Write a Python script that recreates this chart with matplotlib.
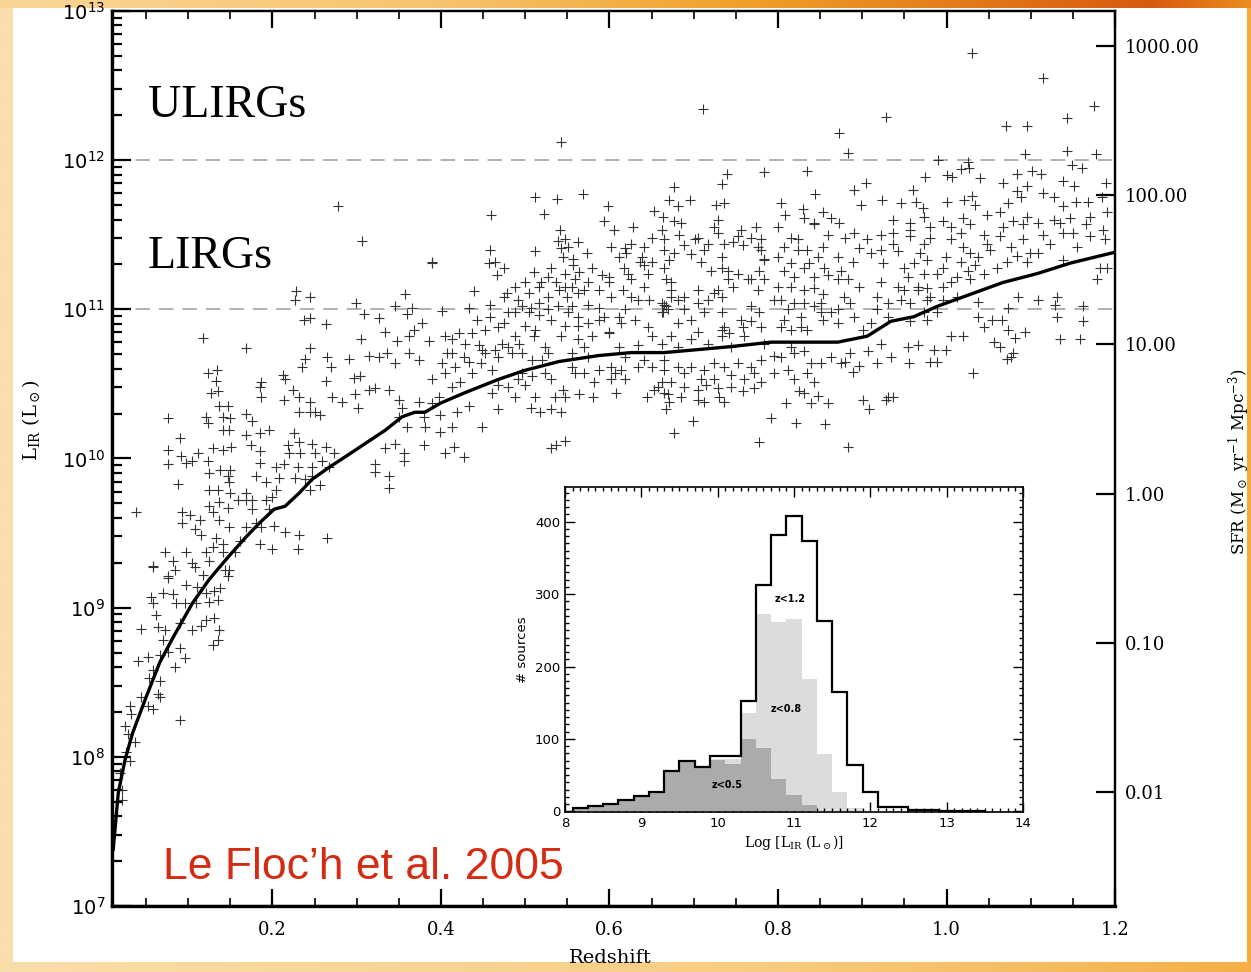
import numpy as np
import matplotlib
matplotlib.use("Agg")
import matplotlib.pyplot as plt
from matplotlib.ticker import (MultipleLocator, FixedLocator, FormatStrFormatter, LogFormatterMathtext,
                               NullLocator, NullFormatter)

plt.rcParams['mathtext.fontset'] = 'dejavuserif'

# ---- data: (redshift, log L_IR) ----
src_lowz = [
    (0.058, 9.28), (0.084, 9.25), (0.108, 9.27), (0.076, 9.20), (0.097, 9.15), (0.111, 9.14), (0.121, 9.10),
    (0.131, 9.11), (0.138, 9.13), (0.147, 9.21), (0.149, 9.25), (0.056, 9.07), (0.058, 9.03), (0.070, 9.10),
    (0.082, 9.09), (0.085, 9.03), (0.096, 9.03), (0.109, 9.03), (0.125, 9.04), (0.135, 9.05), (0.062, 8.95),
    (0.044, 8.86), (0.064, 8.87), (0.073, 8.85), (0.090, 8.90), (0.105, 8.85), (0.115, 8.88), (0.121, 8.92),
    (0.131, 8.93), (0.137, 8.85), (0.070, 8.78), (0.090, 8.73), (0.096, 8.66), (0.129, 8.75), (0.135, 8.78),
    (0.040, 8.64), (0.052, 8.67), (0.067, 8.68), (0.076, 8.70), (0.084, 8.60), (0.058, 8.58), (0.054, 8.53),
    (0.066, 8.51), (0.064, 8.42), (0.067, 8.40), (0.044, 8.40), (0.031, 8.34), (0.032, 8.29), (0.052, 8.34),
    (0.058, 8.32), (0.090, 8.25), (0.025, 8.21), (0.028, 8.15), (0.037, 8.10), (0.026, 8.03), (0.031, 7.97),
    (0.022, 7.78), (0.019, 7.89), (0.022, 7.71),
    (0.076, 10.27), (0.090, 10.14), (0.076, 10.06), (0.076, 9.96), (0.091, 10.02), (0.097, 9.97), (0.105, 9.98),
    (0.112, 10.04), (0.088, 9.83), (0.121, 10.28), (0.123, 10.24), (0.137, 10.35), (0.147, 10.35), (0.141, 10.28),
    (0.150, 10.27), (0.141, 10.19), (0.149, 10.19), (0.168, 10.30), (0.176, 10.25), (0.169, 10.16), (0.185, 10.17),
    (0.196, 10.19), (0.129, 10.07), (0.141, 10.06), (0.151, 10.08), (0.175, 10.09), (0.185, 10.05), (0.123, 9.98),
    (0.125, 9.90), (0.138, 9.92), (0.150, 9.92), (0.147, 9.88), (0.125, 9.79), (0.149, 9.84), (0.135, 9.79),
    (0.150, 9.77), (0.185, 9.97), (0.180, 9.88), (0.192, 9.84), (0.168, 9.77), (0.176, 9.72), (0.192, 9.72),
    (0.159, 9.72), (0.125, 9.68), (0.137, 9.71), (0.147, 9.67), (0.129, 9.64), (0.137, 9.59), (0.149, 9.54),
    (0.114, 9.59), (0.093, 9.64), (0.102, 9.62), (0.093, 9.57), (0.108, 9.53), (0.115, 9.49), (0.133, 9.47),
    (0.141, 9.43), (0.129, 9.41), (0.121, 9.37), (0.141, 9.37), (0.156, 9.37), (0.097, 9.37), (0.105, 9.30),
    (0.125, 9.31), (0.073, 9.37), (0.082, 9.31), (0.058, 9.27), (0.144, 9.25), (0.117, 9.22), (0.076, 9.21),
    (0.038, 9.64), (0.186, 9.54), (0.161, 9.45), (0.168, 9.54), (0.180, 9.57), (0.176, 9.66), (0.196, 9.66),
    (0.168, 9.72), (0.118, 10.81), (0.168, 10.74), (0.123, 10.57), (0.134, 10.59), (0.133, 10.52), (0.127, 10.44),
    (0.135, 10.45), (0.186, 10.51), (0.185, 10.48), (0.186, 10.41),
]

src_midz = [
    (0.228, 11.12), (0.244, 11.08), (0.299, 11.04), (0.346, 11.02), (0.366, 11.01), (0.309, 10.97), (0.327, 10.94),
    (0.360, 10.97), (0.238, 10.93), (0.245, 10.94), (0.263, 10.90), (0.378, 10.91), (0.305, 10.80), (0.334, 10.85),
    (0.348, 10.79), (0.362, 10.82), (0.368, 10.86), (0.386, 10.79), (0.244, 10.74), (0.239, 10.67), (0.265, 10.68),
    (0.269, 10.61), (0.291, 10.67), (0.314, 10.69), (0.327, 10.68), (0.336, 10.71), (0.346, 10.64), (0.362, 10.71),
    (0.374, 10.66), (0.235, 10.61), (0.263, 10.52), (0.297, 10.54), (0.304, 10.55), (0.213, 10.56), (0.215, 10.53),
    (0.224, 10.46), (0.214, 10.39), (0.232, 10.41), (0.244, 10.38), (0.245, 10.31), (0.232, 10.31), (0.251, 10.31),
    (0.257, 10.29), (0.271, 10.41), (0.283, 10.38), (0.298, 10.43), (0.301, 10.34), (0.315, 10.46), (0.322, 10.47),
    (0.338, 10.46), (0.350, 10.39), (0.354, 10.34), (0.350, 10.28), (0.374, 10.38), (0.389, 10.37), (0.399, 10.29),
    (0.380, 10.28), (0.360, 10.21), (0.381, 10.21), (0.356, 10.04), (0.356, 9.98), (0.380, 10.09), (0.346, 10.10),
    (0.334, 10.07), (0.322, 9.96), (0.322, 9.91), (0.338, 9.88), (0.338, 9.80), (0.218, 10.09), (0.226, 10.17),
    (0.232, 10.11), (0.247, 10.10), (0.220, 10.04), (0.233, 10.04), (0.250, 10.04), (0.263, 10.08), (0.273, 10.04),
    (0.259, 9.98), (0.247, 9.94), (0.267, 9.94), (0.204, 9.94), (0.214, 9.96), (0.230, 9.94), (0.208, 9.87),
    (0.227, 9.87), (0.239, 9.86), (0.247, 9.88), (0.244, 9.79), (0.256, 9.82), (0.204, 9.79), (0.200, 9.74),
    (0.202, 9.55), (0.185, 9.43), (0.200, 9.39), (0.230, 9.39), (0.215, 9.51), (0.232, 9.49), (0.265, 9.47),
    (0.227, 11.06), (0.278, 11.69), (0.306, 11.46), (0.357, 11.10), (0.389, 11.31),
]

src_z05 = [
    (0.677, 11.82), (0.734, 11.84), (0.512, 11.75), (0.538, 11.74), (0.569, 11.77), (0.459, 11.63), (0.522, 11.64),
    (0.671, 11.73), (0.681, 11.69), (0.695, 11.73), (0.727, 11.70), (0.736, 11.71), (0.598, 11.69), (0.593, 11.59),
    (0.605, 11.53), (0.653, 11.66), (0.664, 11.62), (0.676, 11.59), (0.685, 11.58), (0.628, 11.55), (0.662, 11.53),
    (0.729, 11.60), (0.724, 11.55), (0.541, 11.53), (0.458, 11.40), (0.457, 11.31), (0.464, 11.32), (0.475, 11.28),
    (0.466, 11.23), (0.512, 11.39), (0.539, 11.46), (0.547, 11.47), (0.543, 11.41), (0.551, 11.42), (0.563, 11.45),
    (0.573, 11.38), (0.531, 11.28), (0.510, 11.25), (0.545, 11.35), (0.557, 11.34), (0.564, 11.25), (0.557, 11.30),
    (0.611, 11.35), (0.618, 11.41), (0.638, 11.35), (0.650, 11.32), (0.665, 11.40), (0.671, 11.33), (0.677, 11.38),
    (0.689, 11.43), (0.701, 11.47), (0.712, 11.40), (0.709, 11.32), (0.697, 11.37), (0.733, 11.35), (0.741, 11.26),
    (0.746, 11.45), (0.758, 11.43), (0.776, 11.42), (0.780, 11.47), (0.756, 11.53), (0.774, 11.55), (0.783, 11.33),
    (0.729, 11.51), (0.641, 11.30), (0.622, 11.24), (0.600, 11.22), (0.575, 11.18), (0.555, 11.15), (0.537, 11.18),
    (0.519, 11.18), (0.500, 11.18), (0.488, 11.15), (0.478, 11.11), (0.439, 11.12), (0.401, 10.99), (0.433, 11.01),
    (0.458, 11.03), (0.458, 10.95), (0.443, 10.93), (0.475, 11.08), (0.496, 11.02), (0.507, 11.01), (0.516, 10.96),
    (0.527, 11.08), (0.540, 11.13), (0.549, 11.08), (0.563, 11.11), (0.575, 11.03), (0.587, 11.01), (0.602, 11.08),
    (0.616, 11.13), (0.626, 11.08), (0.641, 11.15), (0.647, 11.06), (0.662, 11.04), (0.667, 11.02), (0.673, 11.13),
    (0.689, 11.08), (0.705, 11.04), (0.724, 11.11), (0.733, 11.08), (0.746, 11.15), (0.764, 11.20), (0.776, 11.13),
    (0.783, 11.20), (0.768, 11.02), (0.756, 10.93), (0.733, 10.86), (0.712, 10.98), (0.697, 10.93), (0.681, 10.91),
    (0.662, 10.98), (0.646, 10.88), (0.630, 10.93), (0.614, 10.91), (0.599, 10.85), (0.579, 10.82), (0.563, 10.89),
    (0.547, 10.89), (0.531, 10.93), (0.511, 10.86), (0.500, 10.89), (0.488, 10.82), (0.475, 10.91), (0.472, 10.77),
    (0.445, 10.76), (0.421, 10.84), (0.405, 10.82), (0.413, 10.71), (0.427, 10.68), (0.452, 10.71), (0.468, 10.68),
    (0.484, 10.71), (0.493, 10.77), (0.510, 10.82), (0.523, 10.75), (0.527, 10.71), (0.543, 10.82), (0.563, 10.80),
    (0.570, 10.75), (0.600, 10.84), (0.611, 10.75), (0.634, 10.76), (0.650, 10.82), (0.662, 10.77), (0.673, 10.82),
    (0.681, 10.75), (0.697, 10.80), (0.705, 10.85), (0.717, 10.77), (0.733, 10.82), (0.744, 10.75), (0.760, 10.82),
    (0.780, 10.88), (0.783, 10.77), (0.389, 10.53), (0.398, 10.41), (0.413, 10.48), (0.422, 10.51), (0.405, 10.57),
    (0.437, 10.57), (0.448, 10.64), (0.460, 10.59), (0.468, 10.49), (0.460, 10.44), (0.433, 10.35), (0.419, 10.31),
    (0.468, 10.33), (0.488, 10.41), (0.500, 10.49), (0.496, 10.57), (0.511, 10.41), (0.507, 10.34), (0.517, 10.31),
    (0.531, 10.33), (0.543, 10.31), (0.535, 10.41), (0.547, 10.41), (0.531, 10.53), (0.559, 10.57), (0.545, 10.46),
    (0.564, 10.43), (0.581, 10.41), (0.582, 10.51), (0.606, 10.57), (0.608, 10.44), (0.644, 10.41), (0.653, 10.46),
    (0.662, 10.51), (0.670, 10.43), (0.667, 10.33), (0.671, 10.38), (0.673, 10.51), (0.689, 10.57), (0.705, 10.46),
    (0.715, 10.49), (0.729, 10.47), (0.730, 10.41), (0.736, 10.38), (0.712, 10.38), (0.699, 10.25), (0.676, 10.17),
    (0.744, 10.56), (0.758, 10.45), (0.772, 10.47), (0.778, 10.11), (0.449, 10.21), (0.413, 10.21), (0.399, 10.18),
    (0.415, 10.08), (0.405, 10.04), (0.427, 10.01), (0.531, 10.07), (0.547, 10.12), (0.537, 10.09),
    (0.542, 12.12), (0.711, 12.34), (0.740, 11.91), (0.783, 11.92), (0.389, 11.32),
]

src_z05_dense = [
    (0.620, 11.38), (0.636, 11.32), (0.646, 11.24), (0.665, 11.28), (0.667, 11.20), (0.673, 11.18), (0.665, 11.03),
    (0.670, 11.00), (0.664, 10.98), (0.673, 11.08), (0.681, 11.06), (0.689, 11.00), (0.705, 11.13), (0.717, 11.06),
    (0.729, 11.13), (0.733, 10.98), (0.736, 10.88), (0.742, 10.84), (0.758, 10.88), (0.768, 10.92), (0.778, 10.98),
    (0.720, 11.26), (0.733, 11.28), (0.741, 11.20), (0.753, 11.24), (0.768, 11.20), (0.778, 11.26), (0.783, 11.34),
    (0.626, 11.20), (0.634, 11.06), (0.618, 11.00), (0.611, 10.95), (0.594, 10.95), (0.587, 10.93), (0.575, 10.91),
    (0.563, 10.95), (0.551, 10.98), (0.555, 11.02), (0.539, 11.02), (0.527, 11.00), (0.516, 11.04), (0.504, 10.98),
    (0.488, 10.98), (0.480, 10.98), (0.468, 10.88), (0.452, 10.86), (0.437, 10.84), (0.428, 10.77), (0.413, 10.80),
    (0.407, 10.71), (0.401, 10.64), (0.417, 10.61), (0.433, 10.65), (0.449, 10.73), (0.464, 10.73), (0.480, 10.75),
    (0.496, 10.71), (0.508, 10.66), (0.520, 10.66), (0.523, 10.57), (0.508, 10.55), (0.492, 10.53), (0.480, 10.48),
    (0.555, 10.61), (0.570, 10.57), (0.587, 10.59), (0.602, 10.61), (0.614, 10.59), (0.602, 10.53), (0.618, 10.53),
    (0.634, 10.61), (0.650, 10.61), (0.665, 10.59), (0.681, 10.61), (0.697, 10.61), (0.712, 10.59), (0.724, 10.64),
    (0.736, 10.61), (0.753, 10.64), (0.768, 10.61), (0.780, 10.66), (0.665, 10.66), (0.641, 10.66), (0.618, 10.68),
    (0.575, 10.68), (0.555, 10.71), (0.658, 10.48), (0.665, 10.44), (0.709, 10.53), (0.724, 10.53), (0.744, 10.48),
    (0.760, 10.53), (0.772, 10.57), (0.780, 10.51), (0.689, 10.48), (0.685, 10.41), (0.705, 10.39), (0.602, 11.42),
    (0.626, 11.44), (0.641, 11.42), (0.650, 11.48), (0.665, 11.47), (0.683, 11.50), (0.705, 11.48), (0.717, 11.44),
    (0.736, 11.44), (0.753, 11.49), (0.768, 11.48), (0.780, 11.40), (0.617, 11.28), (0.591, 11.23), (0.579, 11.28),
    (0.559, 11.20), (0.547, 11.24), (0.527, 11.22), (0.516, 11.15), (0.504, 11.11), (0.492, 11.06), (0.547, 11.15),
    (0.570, 11.13), (0.587, 11.13), (0.599, 11.18),
]

src_highz = [
    (1.030, 12.72), (1.114, 12.55), (1.071, 12.23), (1.096, 12.23), (1.143, 12.28), (1.175, 12.36), (0.928, 12.29),
    (0.872, 12.18), (0.883, 12.05), (0.990, 12.00), (1.026, 11.99), (1.093, 12.04), (1.143, 12.06), (1.178, 12.04),
    (0.834, 11.93), (0.905, 11.85), (0.890, 11.80), (0.974, 11.89), (1.000, 11.90), (1.007, 11.89), (1.017, 11.94),
    (1.027, 11.95), (1.040, 11.88), (1.084, 11.91), (1.102, 11.93), (1.112, 11.91), (1.149, 11.97), (1.161, 11.95),
    (1.189, 11.85), (1.067, 11.85), (1.138, 11.86), (1.151, 11.83), (1.096, 11.83), (1.084, 11.79), (0.804, 11.71),
    (0.844, 11.77), (0.808, 11.63), (0.830, 11.67), (0.854, 11.65), (0.899, 11.70), (0.923, 11.73), (0.960, 11.80),
    (0.964, 11.72), (1.000, 11.72), (1.030, 11.76), (1.034, 11.70), (1.021, 11.73), (1.073, 11.71), (1.088, 11.75),
    (1.114, 11.78), (1.127, 11.75), (1.154, 11.72), (1.168, 11.72), (1.185, 11.75), (1.138, 11.69), (0.946, 11.71),
    (0.972, 11.68),
    (0.800, 11.55), (0.843, 11.57), (0.872, 11.58), (0.815, 11.48), (0.859, 11.50), (0.880, 11.48), (0.922, 11.50),
    (0.937, 11.51), (0.957, 11.53), (0.981, 11.48), (1.017, 11.51), (1.044, 11.50), (1.067, 11.55), (1.091, 11.57),
    (1.115, 11.50), (1.135, 11.58), (1.150, 11.51), (1.165, 11.57), (1.188, 11.47), (0.800, 11.35), (0.824, 11.40),
    (0.837, 11.31), (0.853, 11.42), (0.871, 11.35), (0.896, 11.41), (0.910, 11.38), (0.942, 11.39), (0.969, 11.38),
    (0.999, 11.35), (1.028, 11.38), (1.052, 11.40), (1.084, 11.36), (1.108, 11.38), (1.138, 11.33), (1.182, 11.28),
    (0.807, 11.26), (0.831, 11.28), (0.859, 11.23), (0.889, 11.32), (0.925, 11.31), (0.949, 11.28), (0.973, 11.24),
    (0.996, 11.28), (1.017, 11.32), (1.034, 11.30), (1.060, 11.28), (1.072, 11.32), (1.096, 11.32), (0.815, 11.15),
    (0.843, 11.14), (0.871, 11.20), (0.896, 11.15), (0.922, 11.18), (0.949, 11.13), (0.977, 11.14), (1.005, 11.18),
    (1.028, 11.20), (1.044, 11.24), (0.795, 11.06), (0.812, 11.00), (0.831, 11.04), (0.851, 11.04), (0.863, 10.98),
    (0.886, 11.04), (0.918, 11.08), (0.946, 11.06), (0.966, 11.13), (0.977, 11.06), (1.013, 11.08), (1.037, 11.05),
    (1.073, 11.01), (1.085, 11.08), (1.108, 11.06), (1.129, 11.03), (1.131, 11.08), (1.162, 11.02), (1.179, 11.20),
    (1.191, 11.28), (0.804, 10.88), (0.827, 10.88), (0.854, 10.93), (0.871, 10.91), (0.901, 10.86), (0.930, 10.95),
    (0.957, 10.92), (0.977, 10.93), (1.005, 10.82), (1.019, 10.82), (1.037, 10.95), (1.044, 10.88), (1.054, 10.93),
    (1.066, 10.93), (1.073, 10.86), (1.081, 10.81), (1.093, 10.85), (1.131, 10.95), (1.162, 10.92), (1.135, 10.80),
    (1.159, 10.80), (0.795, 10.69), (0.815, 10.75), (0.831, 10.72), (0.839, 10.64), (0.863, 10.68), (0.886, 10.71),
    (0.907, 10.72), (0.922, 10.77), (0.934, 10.68), (0.954, 10.75), (0.966, 10.76), (0.985, 10.73), (0.989, 10.65),
    (0.955, 10.64), (0.999, 10.73), (1.032, 10.57), (1.064, 10.75), (1.076, 10.68), (1.056, 10.78), (0.812, 10.59),
    (0.835, 10.57), (0.843, 10.51), (0.831, 10.44), (0.810, 10.37), (0.839, 10.37), (0.859, 10.37), (0.901, 10.39),
    (0.908, 10.33), (0.930, 10.41), (0.821, 10.24), (0.856, 10.23), (0.792, 10.27), (0.795, 10.57), (0.889, 10.58),
    (0.918, 10.64), (0.880, 10.65), (0.819, 10.53), (0.825, 10.45), (0.847, 10.42), (0.928, 10.39), (0.936, 10.41),
    (1.072, 10.67), (1.079, 10.71), (0.981, 10.65), (0.896, 10.62), (0.875, 10.64), (0.851, 10.64), (0.819, 10.71),
    (0.804, 10.68), (0.883, 10.08),
]

src_highz_dense = [
    (0.807, 11.42), (0.824, 11.47), (0.835, 11.40), (0.815, 11.31), (0.847, 11.35), (0.819, 11.22), (0.843, 11.22),
    (0.855, 11.28), (0.875, 11.26), (0.883, 11.20), (0.800, 11.15), (0.831, 11.13), (0.854, 11.10), (0.878, 11.08),
    (0.804, 11.06), (0.819, 11.04), (0.843, 11.02), (0.871, 11.00), (0.851, 10.98), (0.827, 10.95), (0.807, 10.93),
    (0.815, 10.86), (0.835, 10.86), (0.890, 10.95), (0.910, 10.91), (0.918, 11.00), (0.930, 11.04), (0.942, 11.15),
    (0.954, 11.22), (0.961, 11.31), (0.977, 11.33), (0.989, 11.24), (0.996, 11.15), (1.013, 11.22), (1.025, 11.26),
    (1.037, 11.35), (1.048, 11.44), (1.064, 11.49), (1.076, 11.42), (1.091, 11.47), (1.099, 11.38), (1.123, 11.44),
    (1.138, 11.51), (1.155, 11.42), (1.170, 11.49), (1.186, 11.53), (0.957, 11.49), (0.937, 11.44), (0.922, 11.40),
    (0.906, 11.47), (0.890, 11.51), (1.005, 11.47), (1.020, 11.42), (0.973, 11.44), (0.981, 11.55), (1.005, 11.55),
    (1.028, 11.57), (0.966, 11.15), (0.981, 11.08), (0.996, 11.06), (0.989, 10.98), (0.973, 10.98), (0.957, 11.04),
    (0.937, 11.60), (0.957, 11.58), (0.973, 11.62), (0.996, 11.59), (1.020, 11.61), (1.048, 11.63), (1.064, 11.65),
    (1.079, 11.59), (1.096, 11.62), (1.108, 11.58), (1.127, 11.60), (1.147, 11.61), (1.170, 11.62), (1.191, 11.65),
    (0.843, 11.58), (0.863, 11.61), (0.831, 11.61),
]

# average L_IR(z) curve
curve_z = [0.011, 0.017, 0.025, 0.034, 0.050, 0.066, 0.082, 0.105, 0.125, 0.149, 0.168, 0.185, 0.202, 0.215,
           0.232, 0.247, 0.267, 0.286, 0.310, 0.334, 0.354, 0.369, 0.381, 0.399, 0.428, 0.468, 0.499, 0.540,
           0.587, 0.626, 0.665, 0.705, 0.744, 0.792, 0.837, 0.871, 0.906, 0.934, 0.961, 0.989, 1.028, 1.067,
           1.108, 1.147, 1.198]
curve_logL = [7.38, 7.76, 7.98, 8.16, 8.40, 8.63, 8.80, 9.03, 9.19, 9.35, 9.47, 9.57, 9.66, 9.68,
              9.77, 9.86, 9.94, 10.01, 10.10, 10.19, 10.28, 10.31, 10.31, 10.37, 10.44, 10.53, 10.59, 10.65,
              10.69, 10.71, 10.71, 10.73, 10.75, 10.78, 10.78, 10.78, 10.82, 10.92, 10.95, 11.02, 11.10, 11.18,
              11.24, 11.31, 11.38]

# inset histograms (bins of 0.2 dex)
bin_edges = [8.1 + 0.2 * i for i in range(28)]
n_z12 = [5, 7, 10, 16, 21, 26, 55, 70, 61, 76, 76, 152, 312, 381, 408, 374, 263, 165, 64, 26, 6, 6, 2, 2, 1, 1, 1]
n_z08 = [5, 7, 10, 16, 21, 26, 55, 70, 61, 72, 72, 136, 272, 261, 266, 183, 79, 26, 5, 1, 0, 0, 0, 0, 0, 0, 0]
n_z05 = [5, 7, 10, 16, 21, 26, 55, 70, 61, 71, 66, 100, 88, 44, 22, 9, 1, 0, 0, 0, 0, 0, 0, 0, 0, 0, 0]

SFR_PER_L = 1.72e-10

# ---- figure + slide background ----
fig = plt.figure(figsize=(12.51, 9.72), dpi=100)
H, W = 972, 1251
img = np.ones((H, W, 3))
xs = np.linspace(0, 1, W)
top_cols = np.array([[250, 214, 150], [246, 196, 110], [240, 160, 40], [215, 90, 15], [236, 140, 30]]) / 255
top_pos = [0.0, 0.35, 0.6, 0.92, 1.0]
top = np.stack([np.interp(xs, top_pos, top_cols[:, k]) for k in range(3)], axis=1)
img[:9, :, :] = top[None, :, :]
bot_cols = np.array([[250, 222, 170], [248, 205, 130], [244, 175, 70]]) / 255
bot = np.stack([np.interp(xs, [0, 0.6, 1], bot_cols[:, k]) for k in range(3)], axis=1)
img[962:, :, :] = bot[None, :, :]
img[9:962, :13, :] = np.array([250, 222, 172]) / 255
img[9:962, 1247:, :] = np.array([244, 170, 60]) / 255
bg = fig.add_axes([0, 0, 1, 1], zorder=-10)
bg.imshow(img, extent=[0, 1, 0, 1], aspect='auto', interpolation='bilinear')
bg.set_axis_off()

# ---- main panel ----
ax = fig.add_axes([0.0895, 0.0679, 0.8018, 0.9208])
ax.set_facecolor('white')
for grp in (src_lowz, src_midz, src_z05, src_z05_dense, src_highz, src_highz_dense):
    arr = np.array(grp)
    ax.plot(arr[:, 0], 10 ** arr[:, 1], '+', ms=7, mew=0.8, color='#333333', zorder=2)
ax.plot(curve_z, 10 ** np.array(curve_logL), '-', color='black', lw=2.4, zorder=3)
for lev in (1e11, 1e12):
    ax.axhline(lev, color='#aaaaaa', lw=1.3, dashes=(8, 5), zorder=1)

ax.set_yscale('log')
ax.set_xlim(0.0095, 1.2)
ax.set_ylim(1e7, 1e13)
ax.xaxis.set_major_locator(FixedLocator([0.2, 0.4, 0.6, 0.8, 1.0, 1.2]))
ax.xaxis.set_minor_locator(FixedLocator([0.05 * k for k in range(1, 24) if k % 4]))
ax.xaxis.set_major_formatter(FormatStrFormatter('%.1f'))
ax.yaxis.set_major_locator(FixedLocator([10.0 ** e for e in range(7, 14)]))
ax.yaxis.set_minor_locator(FixedLocator([m * 10.0 ** e for e in range(7, 13) for m in range(2, 10)]))
ax.yaxis.set_major_formatter(LogFormatterMathtext())
ax.yaxis.set_minor_formatter(NullFormatter())
ax.tick_params(axis='x', which='major', direction='in', top=True, length=12, width=1.6, pad=11,
               labelsize=13)
ax.tick_params(axis='x', which='minor', direction='in', top=True, length=6, width=1.2)
ax.tick_params(axis='y', which='major', direction='in', right=False, length=14, width=1.6, pad=5,
               labelsize=14)
ax.tick_params(axis='y', which='minor', direction='in', right=False, length=7, width=1.6)
for lbl in ax.get_xticklabels():
    lbl.set_fontfamily('DejaVu Serif')
for side in ax.spines:
    ax.spines[side].set_linewidth(1.6)
ax.spines['left'].set_linewidth(2.4)
ax.spines['bottom'].set_linewidth(2.4)

ax.set_xlabel('Redshift', fontsize=14, family='DejaVu Serif')
ax.xaxis.set_label_coords(0.4965, -0.048)
ax.set_ylabel(r'L$_{\rm IR}$ (L$_\odot$)', fontsize=14, family='DejaVu Serif')
ax.yaxis.set_label_coords(-0.07, 0.543)

ax.text(0.052, 10 ** 12.29, 'ULIRGs', fontsize=33, family='Liberation Serif')
ax.text(0.052, 10 ** 11.28, 'LIRGs', fontsize=33, family='Liberation Serif')
ax.text(0.07, 10 ** 7.18, 'Le Floc\u2019h et al. 2005', fontsize=32, family='Liberation Sans',
        color='#d42b12')

# SFR axis
ax2 = ax.twinx()
ax2.set_yscale('log')
ax2.set_ylim(1e7 * SFR_PER_L, 1e13 * SFR_PER_L)
ax2.yaxis.set_major_locator(FixedLocator([0.01, 0.1, 1, 10, 100, 1000]))
ax2.yaxis.set_minor_locator(NullLocator())
ax2.yaxis.set_major_formatter(FormatStrFormatter('%.2f'))
ax2.tick_params(axis='y', direction='in', length=14, width=1.6, pad=7, labelsize=13)
for lbl in ax2.get_yticklabels():
    lbl.set_fontfamily('DejaVu Serif')
for side in ax2.spines:
    ax2.spines[side].set_linewidth(1.6)
ax2.set_ylabel(r'SFR (M$_\odot$ yr$^{-1}$ Mpc$^{-3}$)', fontsize=12, family='DejaVu Serif')
ax2.yaxis.set_label_coords(1.111, 0.496)

# ---- inset histogram ----
axi = fig.add_axes([0.4516, 0.1646, 0.3661, 0.3344])
axi.stairs(n_z08, bin_edges, fill=True, color='#dcdcdc', zorder=1)
axi.stairs(n_z05, bin_edges, fill=True, color='#ababab', zorder=2)
axi.stairs(n_z12, bin_edges, color='black', lw=1.6, zorder=3)
axi.set_xlim(8, 14)
axi.set_ylim(-1, 448)
axi.xaxis.set_major_locator(MultipleLocator(1))
axi.xaxis.set_minor_locator(MultipleLocator(0.1))
axi.yaxis.set_major_locator(MultipleLocator(100))
axi.yaxis.set_minor_locator(MultipleLocator(10))
axi.tick_params(which='both', direction='in', top=True, right=True, labelsize=9.5, width=1.0)
axi.tick_params(which='major', length=7)
axi.tick_params(which='minor', length=3)
for side in axi.spines:
    axi.spines[side].set_linewidth(1.2)
axi.text(10.95, 293, 'z<1.2', fontsize=7, ha='center', va='center', weight='bold')
axi.text(10.90, 141, 'z<0.8', fontsize=7, ha='center', va='center', weight='bold')
axi.text(10.13, 37, 'z<0.5', fontsize=7, ha='center', va='center', weight='bold')
axi.set_xlabel(r'Log [L$_{\rm IR}$ (L$_\odot$)]', fontsize=10, family='DejaVu Serif', labelpad=2)
axi.set_ylabel('# sources', fontsize=9.5, labelpad=4)

fig.savefig('out.png', dpi=100)
